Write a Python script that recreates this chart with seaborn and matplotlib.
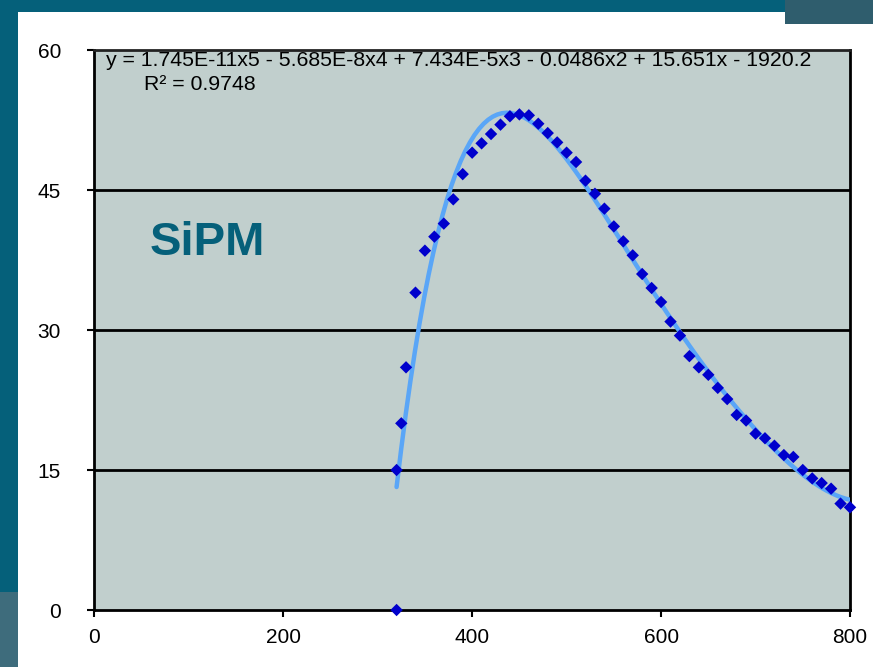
import matplotlib
matplotlib.use("Agg")
import matplotlib.pyplot as plt
import seaborn as sns
import numpy as np
import pandas as pd
from matplotlib.patches import Rectangle

wavelength = [320, 320, 325, 330, 340, 350, 360, 370, 380, 390, 400, 410, 420, 430,
              440, 450, 460, 470, 480, 490, 500, 510, 520, 530, 540, 550, 560, 570,
              580, 590, 600, 610, 620, 630, 640, 650, 660, 670, 680, 690, 700, 710,
              720, 730, 740, 750, 760, 770, 780, 790, 800]
efficiency = [0.0, 15.0, 20.0, 26.0, 34.0, 38.5, 40.0, 41.4, 44.0, 46.7, 49.0, 50.0, 51.0, 52.0,
              52.9, 53.1, 53.0, 52.1, 51.1, 50.1, 49.0, 48.0, 46.0, 44.6, 43.0, 41.1, 39.5, 38.0,
              36.0, 34.5, 33.0, 30.9, 29.4, 27.2, 26.0, 25.2, 23.8, 22.6, 20.9, 20.3, 18.9, 18.4,
              17.6, 16.6, 16.4, 15.0, 14.1, 13.6, 13.0, 11.4, 11.0]
x_ticks = [0, 200, 400, 600, 800]
y_ticks = [0, 15, 30, 45, 60]
equation = "y = 1.745E-11x5 - 5.685E-8x4 + 7.434E-5x3 - 0.0486x2 + 15.651x - 1920.2"
r2_text = "R² = 0.9748"
label = "SiPM"

df = pd.DataFrame({"wavelength": wavelength, "efficiency": efficiency})

sns.set_theme(style="white")
plt.rcParams['font.family'] = ['Liberation Sans', 'DejaVu Sans']

fig = plt.figure(figsize=(8.73, 6.67), dpi=100)
fig.patch.set_facecolor("white")
# slide decoration bands
fig.patches.append(Rectangle((0, 1 - 12/667), 1, 12/667, transform=fig.transFigure,
                             facecolor="#05607a", edgecolor="none", zorder=0))
fig.patches.append(Rectangle((785/873, 1 - 24/667), 88/873, 24/667, transform=fig.transFigure,
                             facecolor="#2f5d6d", edgecolor="none", zorder=0))
fig.patches.append(Rectangle((0, 0), 18/873, 1, transform=fig.transFigure,
                             facecolor="#05607a", edgecolor="none", zorder=0))
fig.patches.append(Rectangle((0, 0), 18/873, 75/667, transform=fig.transFigure,
                             facecolor="#3e6c7c", edgecolor="none", zorder=0))

ax = fig.add_axes([94.3/873, 1 - 610/667, (850 - 94.3)/873, 560/667])
ax.set_facecolor("#c1cfcd")

sns.regplot(data=df, x="wavelength", y="efficiency", order=5, ci=None, scatter=False,
            ax=ax, line_kws=dict(color="#5aa6f7", lw=3.2, zorder=3))
sns.scatterplot(data=df, x="wavelength", y="efficiency", marker="D", s=40,
                color="#0000cc", edgecolor="none", ax=ax, zorder=4, clip_on=False)

ax.set_xlim(0, 800)
ax.set_ylim(0, 60)
ax.set_xticks(x_ticks)
ax.set_yticks(y_ticks)
ax.set_xticklabels([str(t) for t in x_ticks], fontsize=15, color="black")
ax.set_yticklabels([str(t) for t in y_ticks], fontsize=15, color="black")
ax.tick_params(axis="x", direction="out", length=5, width=1.5, color="black", pad=8)
ax.tick_params(axis="y", direction="out", length=5, width=1.5, color="black", pad=19)
ax.tick_params(left=True, bottom=True)
for t in y_ticks[1:-1]:
    ax.axhline(t, color="black", lw=2, zorder=2)
for side in ["left", "right", "bottom"]:
    ax.spines[side].set_visible(True)
    ax.spines[side].set_color("black")
    ax.spines[side].set_linewidth(2)
ax.spines["top"].set_color("#222222")
ax.spines["top"].set_linewidth(2)
ax.set_xlabel("")
ax.set_ylabel("")

ax.text(12, 59.85, equation, fontsize=15.3, va="top", ha="left", color="black")
ax.text(53, 57.3, r2_text, fontsize=15.3, va="top", ha="left", color="black")
ax.text(59, 38, label, fontsize=34, fontweight="bold", color="#05607a", ha="left", va="baseline")

fig.savefig("out.png", dpi=100)
